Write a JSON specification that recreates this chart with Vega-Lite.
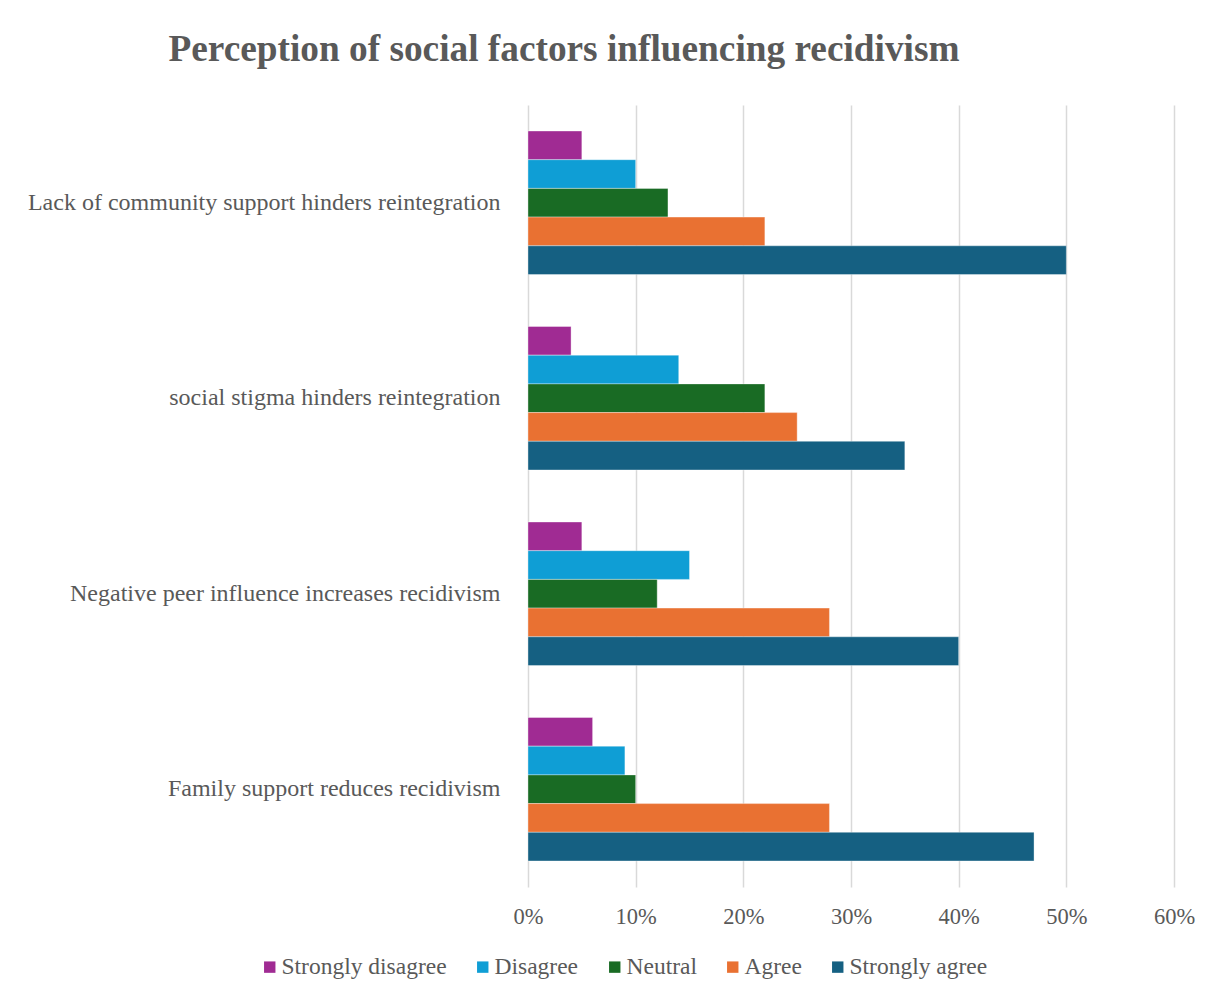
{
  "$schema": "https://vega.github.io/schema/vega-lite/v6.json",
  "autosize": "none",
  "width": 646,
  "height": 782,
  "padding": {"left": 528, "top": 105, "right": 35, "bottom": 112},
  "background": "white",
  "title": {
    "text": "Perception of social factors influencing recidivism",
    "font": "Liberation Serif",
    "fontSize": 37.3,
    "fontWeight": "bold",
    "color": "#595959",
    "anchor": "middle",
    "dx": -287,
    "offset": 36
  },
  "data": {
    "values": [
      {"statement": "Lack of community support hinders reintegration", "response": "Strongly disagree", "pct": 0.05},
      {"statement": "Lack of community support hinders reintegration", "response": "Disagree", "pct": 0.10},
      {"statement": "Lack of community support hinders reintegration", "response": "Neutral", "pct": 0.13},
      {"statement": "Lack of community support hinders reintegration", "response": "Agree", "pct": 0.22},
      {"statement": "Lack of community support hinders reintegration", "response": "Strongly agree", "pct": 0.50},
      {"statement": "social stigma hinders reintegration", "response": "Strongly disagree", "pct": 0.04},
      {"statement": "social stigma hinders reintegration", "response": "Disagree", "pct": 0.14},
      {"statement": "social stigma hinders reintegration", "response": "Neutral", "pct": 0.22},
      {"statement": "social stigma hinders reintegration", "response": "Agree", "pct": 0.25},
      {"statement": "social stigma hinders reintegration", "response": "Strongly agree", "pct": 0.35},
      {"statement": "Negative peer influence increases recidivism", "response": "Strongly disagree", "pct": 0.05},
      {"statement": "Negative peer influence increases recidivism", "response": "Disagree", "pct": 0.15},
      {"statement": "Negative peer influence increases recidivism", "response": "Neutral", "pct": 0.12},
      {"statement": "Negative peer influence increases recidivism", "response": "Agree", "pct": 0.28},
      {"statement": "Negative peer influence increases recidivism", "response": "Strongly agree", "pct": 0.40},
      {"statement": "Family support reduces recidivism", "response": "Strongly disagree", "pct": 0.06},
      {"statement": "Family support reduces recidivism", "response": "Disagree", "pct": 0.09},
      {"statement": "Family support reduces recidivism", "response": "Neutral", "pct": 0.10},
      {"statement": "Family support reduces recidivism", "response": "Agree", "pct": 0.28},
      {"statement": "Family support reduces recidivism", "response": "Strongly agree", "pct": 0.47}
    ]
  },
  "mark": {"type": "bar", "stroke": "#ffffff", "strokeWidth": 0.6, "strokeOpacity": 0.6},
  "encoding": {
    "y": {
      "field": "statement",
      "type": "nominal",
      "sort": null,
      "title": null,
      "scale": {"paddingInner": 0.266, "paddingOuter": 0.133},
      "axis": {
        "domain": false,
        "ticks": false,
        "labelFont": "Liberation Serif",
        "labelFontSize": 24,
        "labelColor": "#595959",
        "labelPadding": 28,
        "labelLimit": 600
      }
    },
    "yOffset": {
      "field": "response",
      "type": "nominal",
      "sort": ["Strongly disagree", "Disagree", "Neutral", "Agree", "Strongly agree"],
      "scale": {"paddingInner": 0, "paddingOuter": 0}
    },
    "x": {
      "field": "pct",
      "type": "quantitative",
      "title": null,
      "scale": {"domain": [0, 0.6], "nice": false},
      "axis": {
        "format": ".0%",
        "values": [0, 0.1, 0.2, 0.3, 0.4, 0.5, 0.6],
        "domain": false,
        "ticks": false,
        "grid": true,
        "gridColor": "#d9d9d9",
        "gridWidth": 1.5,
        "labelFlush": false,
        "labelFont": "Liberation Serif",
        "labelFontSize": 22.5,
        "labelColor": "#595959",
        "labelPadding": 18
      }
    },
    "color": {
      "field": "response",
      "type": "nominal",
      "sort": ["Strongly disagree", "Disagree", "Neutral", "Agree", "Strongly agree"],
      "scale": {
        "domain": ["Strongly disagree", "Disagree", "Neutral", "Agree", "Strongly agree"],
        "range": ["#A02B93", "#0F9ED5", "#196B24", "#E97132", "#156082"]
      },
      "legend": {
        "title": null,
        "orient": "none",
        "direction": "horizontal",
        "legendX": -270,
        "legendY": 850,
        "symbolType": "square",
        "symbolSize": 130,
        "symbolStrokeWidth": 0,
        "labelFont": "Liberation Serif",
        "labelFontSize": 23.5,
        "labelColor": "#595959",
        "labelOffset": 0,
        "columnPadding": 24,
        "labelLimit": 300
      }
    }
  },
  "config": {"view": {"stroke": null}}
}
